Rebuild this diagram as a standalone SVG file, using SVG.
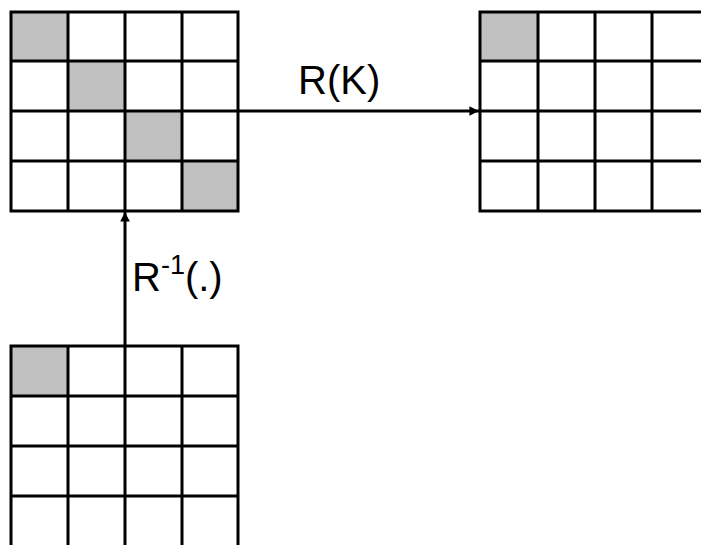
<svg xmlns="http://www.w3.org/2000/svg" width="701" height="545" viewBox="0 0 701 545">
<defs>
<style>
.g{fill:none;stroke:#000;stroke-width:3}
.s{fill:#c0c0c0;stroke:none}
.c{stroke:#000;stroke-width:3;fill:none}
.t{font-family:"Liberation Sans",Arial,sans-serif;font-size:40px;fill:#000}
</style>
<marker id="ah" viewBox="0 0 10 10" refX="10" refY="5" markerWidth="3.2" markerHeight="3.2" orient="auto" markerUnits="strokeWidth">
<path d="M0,0 L10,5 L0,10 Z" fill="#000"/>
</marker>
</defs>
<rect width="701" height="545" fill="#fff"/>
<g id="grid-top-left">
<rect class="s" x="11" y="12" width="57" height="49"/>
<rect class="s" x="68" y="61" width="57" height="50"/>
<rect class="s" x="125" y="111" width="57" height="50"/>
<rect class="s" x="182" y="161" width="56" height="50"/>
<path class="g" d="M11,12H238V211H11Z M68,12V211 M125,12V211 M182,12V211 M11,61H238 M11,111H238 M11,161H238"/>
</g>
<g id="grid-top-right">
<rect class="s" x="480" y="12" width="58" height="49"/>
<path class="g" d="M703,12H480V211H703 M538,12V211 M595,12V211 M652,12V211 M480,61H703 M480,111H703 M480,161H703"/>
</g>
<g id="grid-bottom">
<rect class="s" x="11" y="346" width="57" height="50"/>
<path class="g" d="M11,548V346H238V548 M68,346V548 M125,346V548 M182,346V548 M11,396H238 M11,446H238 M11,496H238"/>
</g>
<g id="connectors">
<line class="c" x1="238" y1="111" x2="479" y2="111" marker-end="url(#ah)"/>
<line class="c" x1="125" y1="346" x2="125" y2="212" marker-end="url(#ah)"/>
</g>
<g id="labels">
<text class="t" x="298" y="94">R(K)</text>
<text class="t" x="132" y="291" font-size="41">R<tspan font-size="27" dy="-17">-1</tspan><tspan dy="17">(.)</tspan></text>
</g>
</svg>
